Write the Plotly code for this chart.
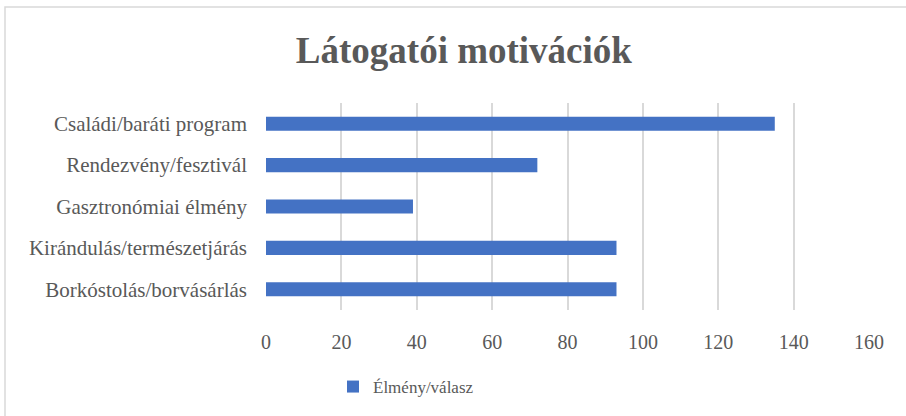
import plotly.graph_objects as go

# Látogatói motivációk - horizontal bar chart
categories = ['Borkóstolás/borvásárlás', 'Kirándulás/természetjárás',
              'Gasztronómiai élmény', 'Rendezvény/fesztivál',
              'Családi/baráti program']
values = [93, 93, 39, 72, 135]
series_name = 'Élmény/válasz'
x_ticks = [0, 20, 40, 60, 80, 100, 120, 140, 160]

W, H = 906, 416
L, R, T, B = 266, 37, 103, 106
pw, ph = W - L - R, H - T - B

def px_x(px):
    return (px - L) / pw

def px_y(py):
    return (H - B - py) / ph

fig = go.Figure()
fig.add_trace(go.Bar(
    y=categories, x=values, orientation='h', name=series_name,
    marker=dict(color='#4472C4', line=dict(width=0)),
    width=0.34, showlegend=True,
))

font = 'Liberation Serif, Times New Roman, serif'
fig.update_layout(
    width=W, height=H,
    margin=dict(l=L, r=R, t=T, b=B, autoexpand=False),
    paper_bgcolor='white', plot_bgcolor='white',
    font=dict(family=font, color='#595959'),
    title=dict(text='<b>Látogatói motivációk</b>', x=0.512, xref='container',
               xanchor='center', y=1 - 50 / H, yanchor='middle',
               font=dict(family=font, size=37, color='#595959')),
    legend=dict(orientation='h', x=px_x(333), xanchor='left',
                y=px_y(387), yanchor='middle',
                font=dict(family=font, size=17, color='#595959'),
                itemwidth=30),
    bargap=0.66,
)
fig.update_xaxes(range=[0, 160], tickvals=x_ticks, showgrid=True,
                 gridcolor='#d9d9d9', gridwidth=1.5, zeroline=False,
                 showline=False, ticks='', ticklabelstandoff=18,
                 automargin=False,
                 tickfont=dict(family=font, size=20, color='#595959'))
fig.update_yaxes(showgrid=False, showline=False, ticks='',
                 ticklabelstandoff=18, automargin=False,
                 tickfont=dict(family=font, size=21, color='#595959'))

# outer chart border (right and bottom edges fall outside the picture)
fig.add_shape(type='rect', xref='paper', yref='paper',
              x0=px_x(5), x1=px_x(915), y0=px_y(425), y1=px_y(7),
              line=dict(color='#d9d9d9', width=1.5), fillcolor='rgba(0,0,0,0)',
              layer='below')

fig.write_html('out.html', config={'displayModeBar': False},
               post_script="document.body.style.margin='0';")
